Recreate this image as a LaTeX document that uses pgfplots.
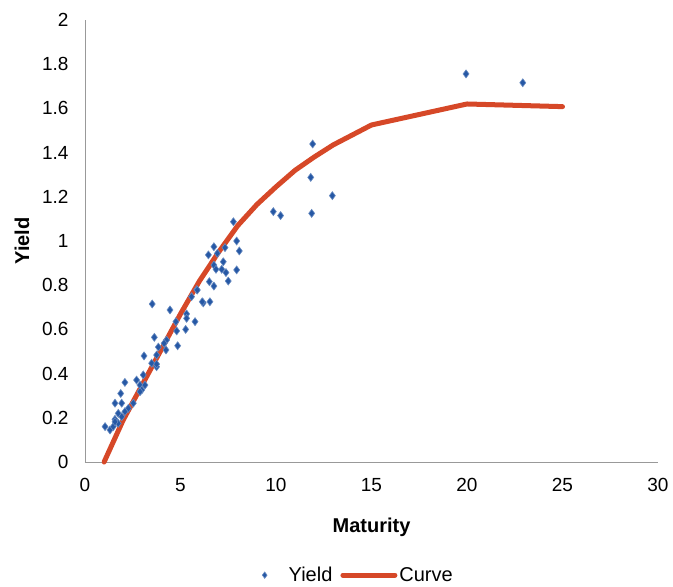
\documentclass[border=0pt]{standalone}
\usepackage{fontspec}
\setmainfont{Liberation Sans}
\usepackage{pgfplots}
\pgfplotsset{compat=1.18}
\definecolor{ptblue}{RGB}{38,88,165}
\definecolor{crv}{RGB}{214,72,40}
\pgfplotsset{
  yieldleg/.style={legend image code/.code={\path[draw=none,fill=none] (-4pt,0) -- (22pt,0); \draw[##1, only marks, mark size=3.2pt] plot coordinates {(0pt,0pt)};}},
  curveleg/.style={legend image code/.code={\draw[##1, line cap=round] (0pt,0pt) -- (52pt,0pt);}}
}
\begin{document}
\begin{tikzpicture}
\useasboundingbox (-85pt,-125pt) rectangle (588pt,462pt);
\begin{axis}[
  scale only axis, width=573pt, height=442pt,
  at={(0,0)}, anchor=origin,
  xmin=0, xmax=30, ymin=0, ymax=2,
  xtick={0,5,...,30}, ytick={0,0.2,...,2.01},
  axis lines*=left,
  axis line style={draw=gray!80, line width=0.9pt},
  major tick length=0pt,
  tick label style={font=\fontsize{19}{19}\selectfont},
  /pgf/number format/assume math mode=true,
  yticklabel style={/pgf/number format/fixed, /pgf/number format/precision=1, xshift=-13pt},
  xticklabel style={yshift=-13pt},
  xlabel={\textbf{Maturity}}, ylabel={\textbf{Yield}},
  label style={font=\fontsize{20}{20}\selectfont},
  xlabel style={at={(0.5,-0.147)}, anchor=center},
  ylabel style={at={(-0.11,0.5)}, anchor=center},
  legend style={draw=none, at={(0.476,-0.256)}, anchor=center, legend columns=2,
    font=\fontsize{20}{20}\selectfont, /tikz/every even column/.append style={column sep=6pt}},
  legend cell align=left,
  clip=false,
]
\addplot[only marks, mark=diamond*, mark size=4pt, mark options={fill=ptblue, draw=ptblue!70!white, line width=0.6pt}, yieldleg] coordinates {
(3.52,0.715) (4.45,0.688) (5.32,0.67) (5.85,0.78) (5.58,0.748) (6.19,0.72)
(5.32,0.65) (4.76,0.635) (5.76,0.635) (4.80,0.593) (5.27,0.60) (3.63,0.564)
(4.27,0.552) (4.14,0.537) (4.24,0.507) (3.84,0.52) (4.85,0.526) (3.75,0.484)
(3.09,0.48) (3.49,0.447) (3.75,0.431) (3.05,0.394) (2.09,0.36) (2.70,0.371)
(2.88,0.348) (3.14,0.348) (2.97,0.326) (1.87,0.31) (2.88,0.318) (1.57,0.266)
(1.92,0.266) (2.53,0.266) (2.27,0.243) (2.09,0.228) (1.74,0.22) (1.92,0.205)
(1.57,0.193) (1.74,0.175) (1.05,0.16) (1.31,0.145) (1.48,0.16) (1.57,0.182)
(3.75,0.443) (7.77,1.087) (7.94,1.0) (8.08,0.955) (6.75,0.974) (6.93,0.944)
(7.33,0.97) (6.46,0.937) (7.24,0.906) (6.75,0.891) (6.86,0.872) (7.16,0.872)
(7.38,0.857) (7.94,0.869) (7.50,0.819) (6.51,0.816) (6.75,0.796) (5.88,0.778)
(6.14,0.725) (6.54,0.725) (9.86,1.133) (10.24,1.115) (11.92,1.439) (11.82,1.288)
(12.95,1.205) (11.87,1.125) (19.95,1.756) (22.92,1.716)
};
\addlegendentry{Yield}
\addplot[color=crv, line width=5pt, line cap=round, line join=round, curveleg] coordinates {
(1,0) (2,0.19) (3,0.35) (4,0.51) (5,0.67) (6,0.82) (7,0.95) (8,1.07) (9,1.165)
(10,1.245) (11,1.32) (12,1.38) (13,1.435) (14,1.48) (15,1.525) (20,1.62) (25,1.608)
};
\addlegendentry{Curve}
\end{axis}
\end{tikzpicture}
\end{document}
